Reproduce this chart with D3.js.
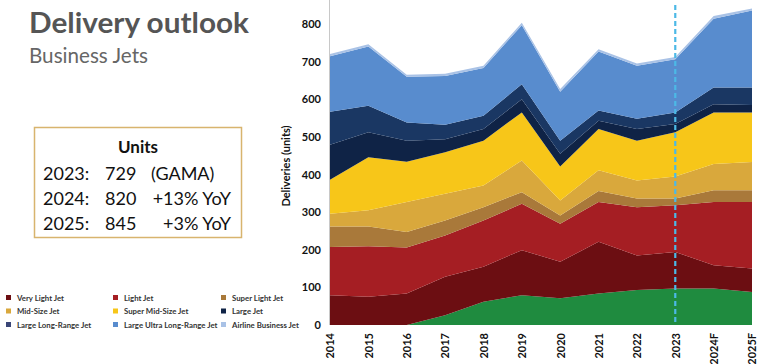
<!DOCTYPE html>
<html><head><meta charset="utf-8">
<script src="https://cdn.jsdelivr.net/npm/d3@7"></script>
<style>
html,body{margin:0;padding:0;background:#fff;}
svg{display:block;font-family:Lato,"Open Sans",sans-serif;}
</style></head>
<body>
<svg id="chart" width="761" height="364"></svg>
<script>
const years = ["2014","2015","2016","2017","2018","2019","2020","2021","2022","2023","2024F","2025F"];
const seriesNames = ["Other","Very Light Jet","Light Jet","Super Light Jet","Mid-Size Jet","Super Mid-Size Jet","Large Jet","Large Long-Range Jet","Large Ultra Long-Range Jet","Airline Business Jet"];
const other        = [0,0,0,26,62,79,71,84,93,97,97,88];
const veryLight    = [79,75,84,102,93,120,97,137,92,97,62,62];
const light        = [128,134,122,110,123,123,101,106,128,124,168,177];
const superLight   = [55,53,41,40,35,31,22,29,23,18,31,31];
const midSize      = [34,43,80,71,58,84,40,55,48,59,70,75];
const superMid     = [90,141,107,110,119,128,90,110,106,117,137,132];
const largeJet     = [93,66,56,35,31,35,34,22,31,22,22,20];
const largeLR      = [88,71,48,38,35,40,35,27,27,31,44,46];
const largeULR     = [147,157,122,130,127,157,130,157,141,141,183,205];
const airlineBJ    = [6,6,5,6,6,6,7,6,6,6,7,5];
const yTicks = [0,100,200,300,400,500,600,700,800];
const legendNames = ["Very Light Jet","Light Jet","Super Light Jet","Mid-Size Jet","Super Mid-Size Jet","Large Jet","Large Long-Range Jet","Large Ultra Long-Range Jet","Airline Business Jet"];
const boxLines = [["2023:","729","(GAMA)"],["2024:","820","+13% YoY"],["2025:","845","+3% YoY"]];
const markerYear = "2023";

const colors = {
  "Other":"#1f8b3f",
  "Very Light Jet":"#6c0e12",
  "Light Jet":"#a51e23",
  "Super Light Jet":"#a9793a",
  "Mid-Size Jet":"#d9a83c",
  "Super Mid-Size Jet":"#f7c619",
  "Large Jet":"#0f2346",
  "Large Long-Range Jet":"#1a3763",
  "Large Ultra Long-Range Jet":"#588cce",
  "Airline Business Jet":"#a9c2e6"
};
const legendColors = Object.assign({}, colors, {"Large Long-Range Jet":"#3a4677"});

const allSeries = [other,veryLight,light,superLight,midSize,superMid,largeJet,largeLR,largeULR,airlineBJ];
const table = years.map((y,i)=>{const o={year:y}; seriesNames.forEach((n,k)=>o[n]=allSeries[k][i]); return o;});

const svg = d3.select("#chart");
const x = d3.scalePoint().domain(years).range([330,752]);
const y = d3.scaleLinear().domain([0,800]).range([325,24]);

const stack = d3.stack().keys(seriesNames);
const layers = stack(table);
const area = d3.area().x(d=>x(d.data.year)).y0(d=>y(d[0])).y1(d=>y(d[1]));

svg.append("g").selectAll("path").data(layers).join("path")
  .attr("d",area).attr("fill",d=>colors[d.key]);

// y axis line
svg.append("line").attr("x1",329.5).attr("x2",329.5).attr("y1",0).attr("y2",325).attr("stroke","#c8c8c8").attr("stroke-width",1);

// y ticks
const yAxis = d3.axisLeft(y).tickValues(yTicks).tickSize(0).tickPadding(0);
const ya = svg.append("g").attr("transform","translate(321,0)").call(yAxis);
ya.select(".domain").remove();
ya.selectAll("text").attr("font-size",11).attr("font-weight","bold").attr("fill","#111").attr("font-family","Lato,sans-serif");

// x ticks
const xAxis = d3.axisBottom(x).tickSize(0).tickPadding(0);
const xa = svg.append("g").attr("transform","translate(0,333)").call(xAxis);
xa.select(".domain").remove();
xa.selectAll("text").attr("font-size",11).attr("font-weight","bold").attr("fill","#111")
  .attr("font-family","Lato,sans-serif")
  .attr("text-anchor","end").attr("dy","0.35em").attr("transform","rotate(-90)").attr("x",0).attr("y",0);

// y title
svg.append("text").attr("transform","translate(290,166) rotate(-90)").attr("text-anchor","middle")
  .attr("font-size",11).attr("font-weight","bold").attr("fill","#111").text("Deliveries (units)");

// marker line
svg.append("line").attr("x1",x(markerYear)).attr("x2",x(markerYear)).attr("y1",5).attr("y2",325)
  .attr("stroke","#4cb9e6").attr("stroke-width",2.2).attr("stroke-dasharray","5,3");

// title
svg.append("text").attr("x",29).attr("y",33).attr("font-size",29).attr("font-weight","bold").attr("fill","#555")
  .attr("textLength",220).attr("lengthAdjust","spacingAndGlyphs").text("Delivery outlook");
svg.append("text").attr("x",29).attr("y",63).attr("font-size",20.5).attr("fill","#666")
  .attr("textLength",119).attr("lengthAdjust","spacingAndGlyphs").text("Business Jets");

// box
svg.append("rect").attr("x",34.5).attr("y",127.5).attr("width",207).attr("height",110).attr("fill","#fff").attr("stroke","#d8b46e").attr("stroke-width",1.5);
svg.append("text").attr("x",138).attr("y",153).attr("text-anchor","middle").attr("font-size",17).attr("font-weight","bold").attr("fill","#111").text("Units");
const colX = [43,105,151];
boxLines.forEach((row,i)=>{
  row.forEach((t,j)=>{
    const tx = svg.append("text").attr("y",180+i*25).attr("font-size",18).attr("fill","#111").text(t);
    if(j===2 && i>0){ tx.attr("x",231).attr("text-anchor","end"); } else { tx.attr("x",colX[j]); }
  });
});

// legend
const lg = svg.append("g");
legendNames.forEach((n,i)=>{
  const col = i%3, row = Math.floor(i/3);
  const gx = [6,113,221][col], gy = 298+row*13.5;
  lg.append("rect").attr("x",gx).attr("y",gy-3).attr("width",5).attr("height",5).attr("fill",legendColors[n]);
  lg.append("text").attr("x",gx+11).attr("y",gy+2.5).attr("font-size",7.8).attr("font-weight","bold").attr("fill","#333").text(n);
});
</script>
</body></html>
